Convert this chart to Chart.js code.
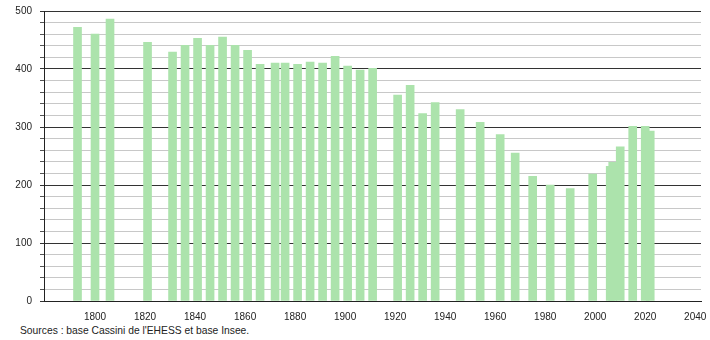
<!DOCTYPE html>
<html>
<head>
<meta charset="utf-8">
<script src="https://cdn.jsdelivr.net/npm/chart.js@4/dist/chart.umd.min.js"></script>
<style>
  body { margin: 0; background: #fff; }
  #wrap { position: absolute; left: 0; top: 0; width: 710px; height: 321px; }
  #source { position: absolute; left: 20px; top: 325px; font: 10.3px "Liberation Sans", Arial, sans-serif; color: #222; margin: 0; }
</style>
</head>
<body>
<div id="wrap"><canvas id="chart"></canvas></div>
<p id="source">Sources : base Cassini de l'EHESS et base Insee.</p>
<script>
const years = [1793, 1800, 1806, 1821, 1831, 1836, 1841, 1846, 1851, 1856, 1861, 1866,
               1872, 1876, 1881, 1886, 1891, 1896, 1901, 1906, 1911, 1921, 1926, 1931,
               1936, 1946, 1954, 1962, 1968, 1975, 1982, 1990, 1999, 2006, 2007, 2010,
               2015, 2020, 2022];
const population = [472, 460, 486, 446, 429, 441, 453, 441, 455, 441, 432, 408,
                    410, 410, 408, 412, 410, 422, 405, 398, 401, 355, 372, 323,
                    342, 330, 308, 287, 255, 215, 200, 194, 219, 232, 239, 266,
                    301, 301, 293];
const xTicks = [1800, 1820, 1840, 1860, 1880, 1900, 1920, 1940, 1960, 1980, 2000, 2020, 2040];

document.addEventListener("DOMContentLoaded", function () {
    const ctx = document.getElementById('chart').getContext('2d');
    const font = { family: "'Liberation Sans', Arial, sans-serif", size: 10 };

    new Chart(ctx, {
        type: 'bar',
        data: {
            datasets: [{
                data: years.map((y, i) => ({ x: y, y: population[i] })),
                backgroundColor: 'rgb(172, 227, 172)',
                borderWidth: 0,
                barThickness: 8
            }]
        },
        options: {
            responsive: true,
            maintainAspectRatio: false,
            animation: false,
            layout: { padding: { top: 11, right: 9, left: 0, bottom: 0 } },
            plugins: {
                legend: { display: false },
                tooltip: { enabled: false }
            },
            scales: {
                x: {
                    type: 'linear',
                    offset: false,
                    min: 1779.6,
                    max: 2042.3,
                    afterBuildTicks: s => { s.ticks = xTicks.map(v => ({ value: v })); },
                    afterFit: s => { s.height = 20; s.paddingLeft = 0; s.paddingRight = 0; },
                    grid: { display: false },
                    border: { display: true, color: '#222', width: 1 },
                    ticks: { color: '#222', font: font, padding: 2, maxRotation: 0, autoSkip: false,
                             callback: v => String(v) }
                },
                y: {
                    min: 0,
                    max: 500,
                    afterFit: s => { s.width = 44; s.paddingTop = 0; s.paddingBottom = 0; },
                    border: { display: true, color: '#222', width: 1 },
                    grid: {
                        color: c => (c.tick && c.tick.value % 100 === 0) ? '#333' : '#c8c8c8',
                        tickColor: c => (c.tick && c.tick.value % 100 === 0) ? '#333' : '#555',
                        tickLength: 4
                    },
                    ticks: {
                        stepSize: 20,
                        color: '#222',
                        font: font,
                        padding: 8,
                        autoSkip: false,
                        callback: v => (v % 100 === 0 ? v : '')
                    }
                }
            }
        }
    });
});
</script>
</body>
</html>
